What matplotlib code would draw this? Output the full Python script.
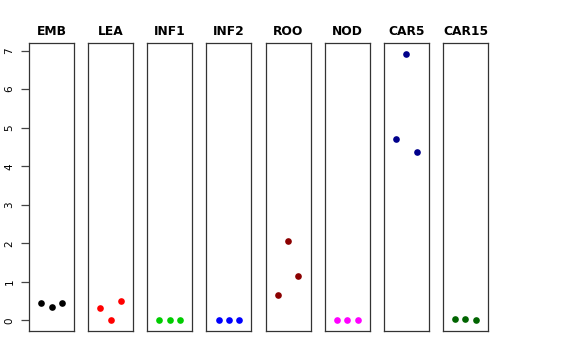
import matplotlib
matplotlib.use("Agg")
import matplotlib.pyplot as plt

# tissue names and three replicate values each
tissues = ["EMB", "LEA", "INF1", "INF2", "ROO", "NOD", "CAR5", "CAR15"]
values = [
    [0.46, 0.35, 0.44],
    [0.32, 0.0, 0.49],
    [0.0, 0.0, 0.0],
    [0.0, 0.0, 0.0],
    [0.66, 2.06, 1.15],
    [0.0, 0.0, 0.0],
    [4.70, 6.92, 4.36],
    [0.04, 0.03, 0.0],
]
colors = ["black", "red", "#00CD00", "blue", "#8B0000", "magenta", "#00008B", "#006400"]
yticks = [0, 1, 2, 3, 4, 5, 6, 7]

fig = plt.figure(figsize=(5.76, 3.6), dpi=100)
left, right, bottom, top = 29 / 576, 488 / 576, 1 - 331 / 360, 1 - 43 / 360
n = len(tissues)
gap = 14.1 / 576
w = (right - left - gap * (n - 1)) / n

ymax = max(max(v) for v in values)
pad = 0.04 * ymax

for i, (name, vals, col) in enumerate(zip(tissues, values, colors)):
    ax = fig.add_axes([left + i * (w + gap), bottom, w, top - bottom])
    ax.plot([1, 2, 3], vals, "o", color=col, markersize=4.8, markeredgewidth=0)
    ax.set_xlim(-0.16, 4.16)
    ax.set_ylim(-pad, ymax + pad)
    ax.set_xticks([])
    ax.set_title(name, fontsize=8.8, fontweight="bold", pad=6)
    for s in ax.spines.values():
        s.set_color("#333333")
        s.set_linewidth(0.9)
    if i == 0:
        ax.set_yticks(yticks)
        ax.tick_params(axis="y", length=5.5, width=0.9, color="#444444",
                       labelsize=7.5, pad=5)
        for lab in ax.get_yticklabels():
            lab.set_rotation(90)
            lab.set_va("center")
    else:
        ax.set_yticks([])

fig.savefig("out.png", dpi=100)
